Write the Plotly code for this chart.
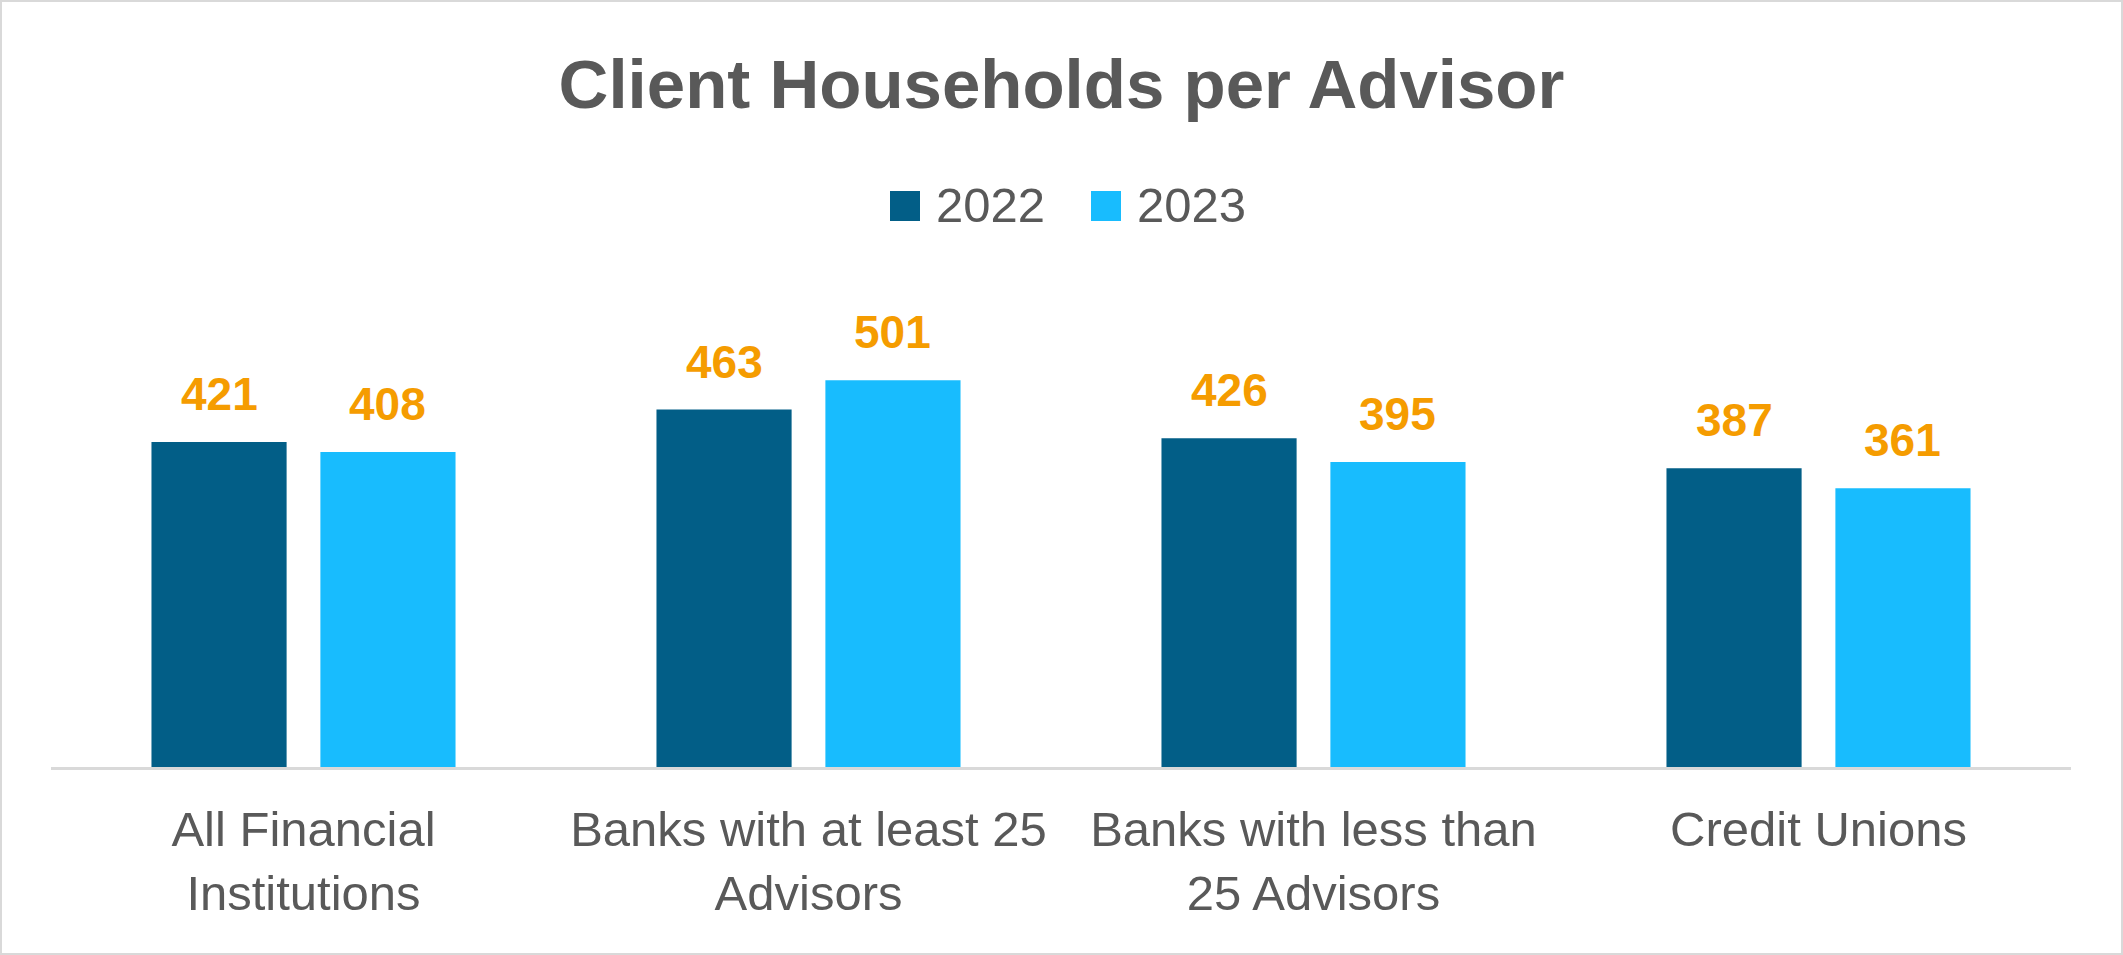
import plotly.graph_objects as go

categories = ["All Financial<br>Institutions", "Banks with at least 25<br>Advisors",
              "Banks with less than<br>25 Advisors", "Credit Unions"]
series_names = ["2022", "2023"]
values_2022 = [421, 463, 426, 387]
values_2023 = [408, 501, 395, 361]

colors = ["#025E87", "#18BCFE"]
label_color = "#F59C00"
text_color = "#595959"

W, H = 2123, 955
ML, MR, MT, MB = 51, 52, 273, 188
PW, PH = W - ML - MR, H - MT - MB
YMAX = 640
BARGAP, GROUPGAP = 0.331, 0.2


def px_x(px):
    return (px - ML) / PW


def px_y(py):
    return (H - MB - py) / PH


fig = go.Figure()
for name, vals, col in zip(series_names, [values_2022, values_2023], colors):
    fig.add_trace(go.Bar(x=categories, y=vals, name=name, marker_color=col,
                         marker_line_width=0, showlegend=False))

# data labels
cat_w = PW / len(categories)
slot = (1 - BARGAP) * cat_w / 2
for k, vals in enumerate([values_2022, values_2023]):
    shift = (k - 0.5) * slot
    for c, v in zip(categories, vals):
        fig.add_annotation(x=c, y=v, text=str(v), showarrow=False, xshift=shift,
                           yanchor="bottom", yshift=20,
                           font=dict(family="Liberation Sans", size=46, color=label_color,
                                     weight="bold"))

# legend (manual, to get large square keys)
legend_items = [(890, "2022"), (1091, "2023")]
for (sx, name), col in zip(legend_items, colors):
    fig.add_shape(type="rect", xref="paper", yref="paper",
                  x0=px_x(sx), x1=px_x(sx + 30), y0=px_y(221), y1=px_y(191),
                  fillcolor=col, line_width=0)
    fig.add_annotation(xref="paper", yref="paper", x=px_x(sx + 44), y=px_y(205),
                       text=name, showarrow=False, xanchor="left", yanchor="middle",
                       font=dict(family="Liberation Sans", size=49, color=text_color))

# outer border
fig.add_shape(type="rect", xref="paper", yref="paper",
              x0=px_x(1), x1=px_x(W - 1), y0=px_y(H - 1), y1=px_y(1),
              line=dict(color="#D9D9D9", width=2), fillcolor="rgba(0,0,0,0)", layer="below")

fig.update_layout(
    width=W, height=H,
    margin=dict(l=ML, r=MR, t=MT, b=MB),
    paper_bgcolor="white", plot_bgcolor="white",
    barmode="group", bargap=BARGAP, bargroupgap=GROUPGAP,
    title=dict(text="Client Households per Advisor", x=0.5, xanchor="center",
               xref="container", y=1 - 84 / H, yanchor="middle",
               font=dict(family="Liberation Sans", size=69, color=text_color, weight="bold")),
    xaxis=dict(showline=True, linecolor="#D9D9D9", linewidth=3, ticks="",
               tickfont=dict(family="Liberation Sans", size=49, color=text_color),
               ticklabelstandoff=17, showgrid=False, zeroline=False),
    yaxis=dict(range=[0, YMAX], visible=False, showgrid=False, zeroline=False),
    showlegend=False,
)

fig.write_html("out.html", config={"displayModeBar": False},
               post_script="document.body.style.margin='0';document.body.style.overflow='hidden';")
